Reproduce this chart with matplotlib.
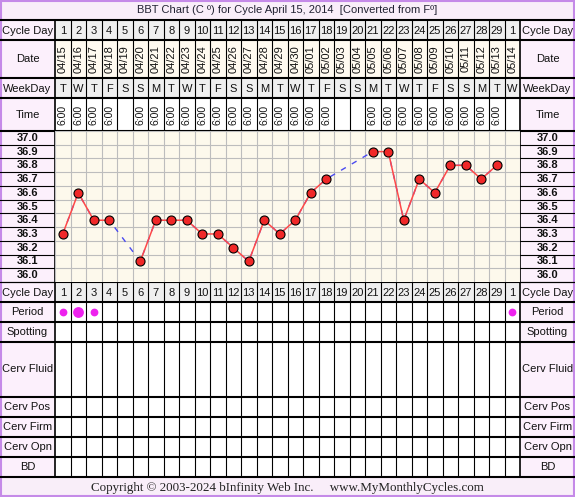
#!/usr/bin/env python3
"""BBT chart (cycle April 15, 2014) redrawn with matplotlib."""

import matplotlib
matplotlib.use("Agg")
import matplotlib.pyplot as plt
import matplotlib.transforms as mtransforms
from matplotlib.patches import Rectangle
import numpy as np

# ---- data -------------------------------------------------------------
cycle_days = [str(d) for d in range(1, 30)] + ["1"]
dates = ["04/15", "04/16", "04/17", "04/18", "04/19", "04/20", "04/21", "04/22",
         "04/23", "04/24", "04/25", "04/26", "04/27", "04/28", "04/29", "04/30",
         "05/01", "05/02", "05/03", "05/04", "05/05", "05/06", "05/07", "05/08",
         "05/09", "05/10", "05/11", "05/12", "05/13", "05/14"]
weekdays = list("TWTFSSMTWTFSSMTWTFSSMTWTFSSMTW")
times = (["6:00"] * 4 + [""] + ["6:00"] * 13 + ["", ""] + ["6:00"] * 9 + [""])
temps = [36.3, 36.6, 36.4, 36.4, None, 36.1, 36.4, 36.4, 36.4, 36.3,
         36.3, 36.2, 36.1, 36.4, 36.3, 36.4, 36.6, 36.7, None, None,
         36.9, 36.9, 36.4, 36.7, 36.6, 36.8, 36.8, 36.7, 36.8, None]
temp_levels = [37.0, 36.9, 36.8, 36.7, 36.6, 36.5, 36.4, 36.3, 36.2, 36.1, 36.0]
period_days = [1, 2, 3, 30]
period_flow = [1, 2, 1, 1]
lower_rows = ["Period", "Spotting", "Cerv Fluid", "Cerv Pos", "Cerv Firm", "Cerv Opn", "BD"]

title = "BBT Chart (C \u00ba) for Cycle April 15, 2014  [Converted from F\u00ba]"
footer = "Copyright \u00a9 2003-2024 bInfinity Web Inc.     www.MyMonthlyCycles.com"

# ---- layout (pixels) --------------------------------------------------
W, H = 575, 497
LX, RX = 55, 520            # day grid left / right edge
NDAYS = len(cycle_days)
COLW = (RX - LX) / NDAYS
TEMP_TOP, TEMP_BOT = 131, 282
lower_bounds = [302, 322, 342, 397, 417, 437, 457, 477]

BORDER = "#c58ae8"
LABEL_BG = "#fcf0fc"
GRAY_BG = "#efefef"
CREAM = "#fdf9ec"
TXT = "#111111"

plt.rcParams["font.family"] = ["Liberation Sans", "DejaVu Sans"]

fig = plt.figure(figsize=(W / 100, H / 100), dpi=100)
ax = fig.add_axes([0, 0, 1, 1])
ax.set_xlim(0, W)
ax.set_ylim(H, 0)
ax.axis("off")


def rect(x0, y0, x1, y1, color, **kw):
    ax.add_patch(Rectangle((x0, y0), x1 - x0, y1 - y0, facecolor=color,
                           edgecolor="none", **kw))


def hline(y, x0=0, x1=W, color="black", lw=1.5, **kw):
    ax.plot([x0, x1], [y, y], color=color, lw=lw, solid_capstyle="butt", **kw)


def vline(x, y0, y1, color="black", lw=0.8):
    ax.plot([x, x], [y0, y1], color=color, lw=lw, solid_capstyle="butt")


# backgrounds
rect(0, 0, W, 20, "#f9eef9")
rect(0, 477, W, H, "#f9eef9")
rect(0, 20, LX, 477, LABEL_BG)
rect(RX, 20, W, 477, LABEL_BG)
rect(LX, 20, RX, 40, GRAY_BG)
rect(LX, 40, RX, 78, "#fffaf0")
rect(LX, 78, RX, 98, GRAY_BG)
rect(LX, 98, RX, 131, "white")
rect(LX, 282, RX, 302, GRAY_BG)
rect(LX, 302, RX, 477, "white")

# day column separators (table parts)
for k in range(1, NDAYS):
    x = LX + k * COLW
    vline(x, 20, 131)
    vline(x, 282, 477)
vline(LX, 20, 477, lw=1.2)
vline(RX, 20, 477, lw=1.2)

# temperature chart ------------------------------------------------------
tax = fig.add_axes([LX / W, 1 - TEMP_BOT / H, (RX - LX) / W, (TEMP_BOT - TEMP_TOP) / H])
tax.set_facecolor(CREAM)
tax.set_xlim(0.5, NDAYS + 0.5)
tax.set_ylim(min(temp_levels) - 0.05, max(temp_levels) + 0.05)
for s in tax.spines.values():
    s.set_visible(False)
tax.set_xticks([])
tax.set_yticks([])
for k in range(NDAYS + 1):
    tax.axvline(0.5 + k, color="#bdbdbd", lw=0.8, zorder=1)
for t in temp_levels:
    tax.axhline(t + 0.05, color="#bdbdbd", lw=0.8, zorder=1)

days = np.arange(1, NDAYS + 1)
tvals = np.array([np.nan if t is None else t for t in temps])
ok = ~np.isnan(tvals)
tax.plot(days[ok], tvals[ok], color="#4a4af0", lw=1.0, ls=(0, (4, 5)), zorder=2)
tax.plot(days, tvals, color="#ff4848", lw=1.1, zorder=3)
tax.plot(days, tvals, "o", ms=6.5, mfc="#f02828", mec="black", mew=0.8, zorder=4)

# transforms: x in day units, y in pixels / in temperature
day_x = mtransforms.blended_transform_factory(tax.transData, ax.transData)
temp_y = mtransforms.blended_transform_factory(ax.transData, tax.transData)

# temperature labels in the side columns
for t in temp_levels:
    for cx in (LX / 2, (RX + W) / 2):
        ax.text(cx, t, f"{t:.1f}", transform=temp_y, ha="center", va="center",
                fontsize=8, fontweight="bold", color=TXT)
    ax.plot([0, LX], [t - 0.05, t - 0.05], transform=temp_y, color="black", lw=0.8)
    ax.plot([RX, W], [t - 0.05, t - 0.05], transform=temp_y, color="black", lw=0.8)

# row separators
for y in (20, 40, 78, 98, 131):
    hline(y)
hline(282, lw=0.8)
for y in lower_bounds:
    hline(y)

# header rows
for d, cd, dt, wd, tm in zip(days, cycle_days, dates, weekdays, times):
    ax.text(d, 30.5, cd, transform=day_x, ha="center", va="center", fontsize=8, color=TXT)
    ax.text(d, 292.5, cd, transform=day_x, ha="center", va="center", fontsize=8, color=TXT)
    ax.text(d, 59, dt, transform=day_x, ha="center", va="center", rotation=90,
            fontsize=8, color=TXT)
    ax.text(d, 88.5, wd, transform=day_x, ha="center", va="center", fontsize=8, color=TXT)
    if tm:
        ax.text(d, 114.5, tm, transform=day_x, ha="center", va="center", rotation=90,
                fontsize=7.5, color=TXT)

# side labels
row_labels = [("Cycle Day", 30.5), ("Date", 59), ("WeekDay", 88.5), ("Time", 114.5),
              ("Cycle Day", 292.5)]
for name, y0, y1 in zip(lower_rows, lower_bounds[:-1], lower_bounds[1:]):
    row_labels.append((name, (y0 + y1) / 2))
for name, y in row_labels:
    ax.text(LX / 2, y, name, ha="center", va="center", fontsize=8, color=TXT)
    ax.text((RX + W) / 2, y, name, ha="center", va="center", fontsize=8, color=TXT)

# period dots
for d, flow in zip(period_days, period_flow):
    ax.plot([d], [312], "o", transform=day_x, ms=5.6 if flow == 1 else 7.8,
            color="#ee22ee", mec="none")

# title and footer
ax.text(W / 2, 10, title, ha="center", va="center", fontsize=8, color="#222233")
ax.text(W / 2, 487.5, footer, ha="center", va="center", fontsize=9.4,
        family=["Liberation Serif", "DejaVu Serif"], color="#222222")

# outer border
ax.add_patch(Rectangle((1, 1), W - 2, H - 2, facecolor="none", edgecolor=BORDER, lw=1.5))

fig.savefig("out.png", dpi=100)
